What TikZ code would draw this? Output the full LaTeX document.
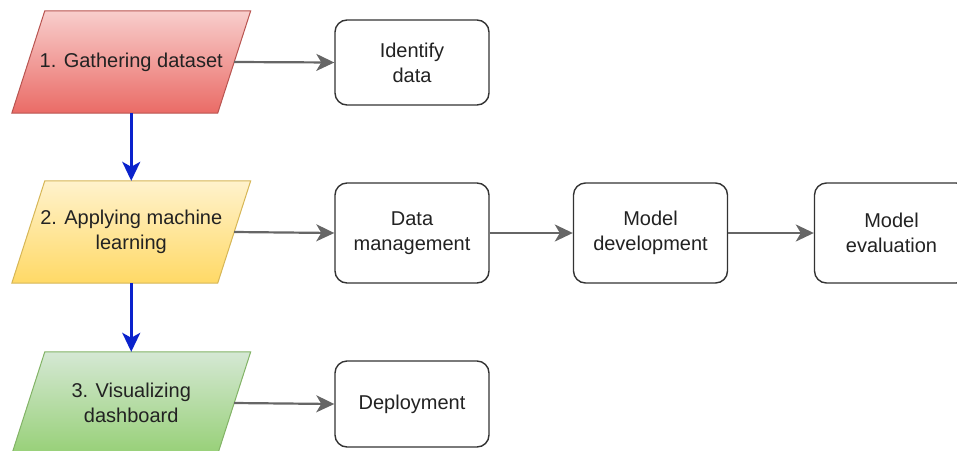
\documentclass[tikz,border=0pt]{standalone}
\usepackage{fontspec}
\setmainfont{Liberation Sans}
\usetikzlibrary{arrows.meta,backgrounds}

\definecolor{txt}{HTML}{222222}
\definecolor{boxline}{HTML}{333333}
\definecolor{flowgray}{HTML}{666666}
\definecolor{flowblue}{HTML}{0A22CC}
\definecolor{redtop}{HTML}{F8CECC}
\definecolor{redbot}{HTML}{EA6B66}
\definecolor{redline}{HTML}{B85450}
\definecolor{yeltop}{HTML}{FFF2CC}
\definecolor{yelbot}{HTML}{FFD966}
\definecolor{yelline}{HTML}{D6B656}
\definecolor{grntop}{HTML}{D5E8D4}
\definecolor{grnbot}{HTML}{97D077}
\definecolor{grnline}{HTML}{82B366}

\tikzset{
  % text area of a stage: the midline of the slanted frame
  stage/.style={rectangle, minimum width=205.5pt, minimum height=102pt,
    inner sep=0pt, align=center, text=txt,
    font=\fontsize{20}{25}\selectfont},
  stageframe/.style={line width=1pt},
  taskbox/.style={draw=boxline, rounded corners=12pt, line width=1.4pt, fill=white,
    minimum width=154pt, align=center, text=txt,
    font=\fontsize{20}{25}\selectfont},
  grayflow/.style={draw=flowgray, line width=2.2pt,
    -{Stealth[length=18pt, width=17pt, inset=5pt]}},
  blueflow/.style={draw=flowblue, line width=2.6pt,
    -{Stealth[length=19pt, width=18pt, inset=5pt]}},
}

% slanted frame behind a stage node: #1 node, #2 top colour, #3 bottom colour, #4 border
\newcommand\slantframe[4]{%
  \begin{scope}[on background layer]
    \shade[stageframe, draw=#4, top color=#2, bottom color=#3]
      ([xshift=-16.5pt]#1.south west) -- ([xshift=-16.5pt]#1.south east)
      -- ([xshift=16.5pt]#1.north east) -- ([xshift=16.5pt]#1.north west) -- cycle;
  \end{scope}}

\begin{document}
\begin{tikzpicture}[x=1pt, y=-1pt]
  \useasboundingbox (0,0) rectangle (957,450);

  % stages
  \node[stage] (s1) at (131.25,62) {1. Gathering dataset};
  \node[stage] (s2) at (131.25,232) {2. Applying machine\\learning};
  \node[stage] (s3) at (131.25,403) {3. Visualizing\\dashboard};
  \slantframe{s1}{redtop}{redbot}{redline}
  \slantframe{s2}{yeltop}{yelbot}{yelline}
  \slantframe{s3}{grntop}{grnbot}{grnline}

  % tasks
  \node[taskbox, minimum height=85pt] (t1) at (412,62.5) {Identify\\data};
  \node[taskbox, minimum height=100pt] (t2) at (412,233) {Data\\management};
  \node[taskbox, minimum height=100pt] (t3) at (650.5,233) {Model\\development};
  \node[taskbox, minimum height=100pt] (t4) at (891.5,233) {Model\\evaluation};
  \node[taskbox, minimum height=86pt] (t5) at (412,404) {Deployment};

  % connectors
  \draw[blueflow] (s1.south) -- (s2.north);
  \draw[blueflow] (s2.south) -- (s3.north);
  \draw[grayflow] (s1.east) -- (t1.west);
  \draw[grayflow] (s2.east) -- (t2.west);
  \draw[grayflow] (t2.east) -- (t3.west);
  \draw[grayflow] (t3.east) -- (t4.west);
  \draw[grayflow] (s3.east) -- (t5.west);
\end{tikzpicture}
\end{document}
